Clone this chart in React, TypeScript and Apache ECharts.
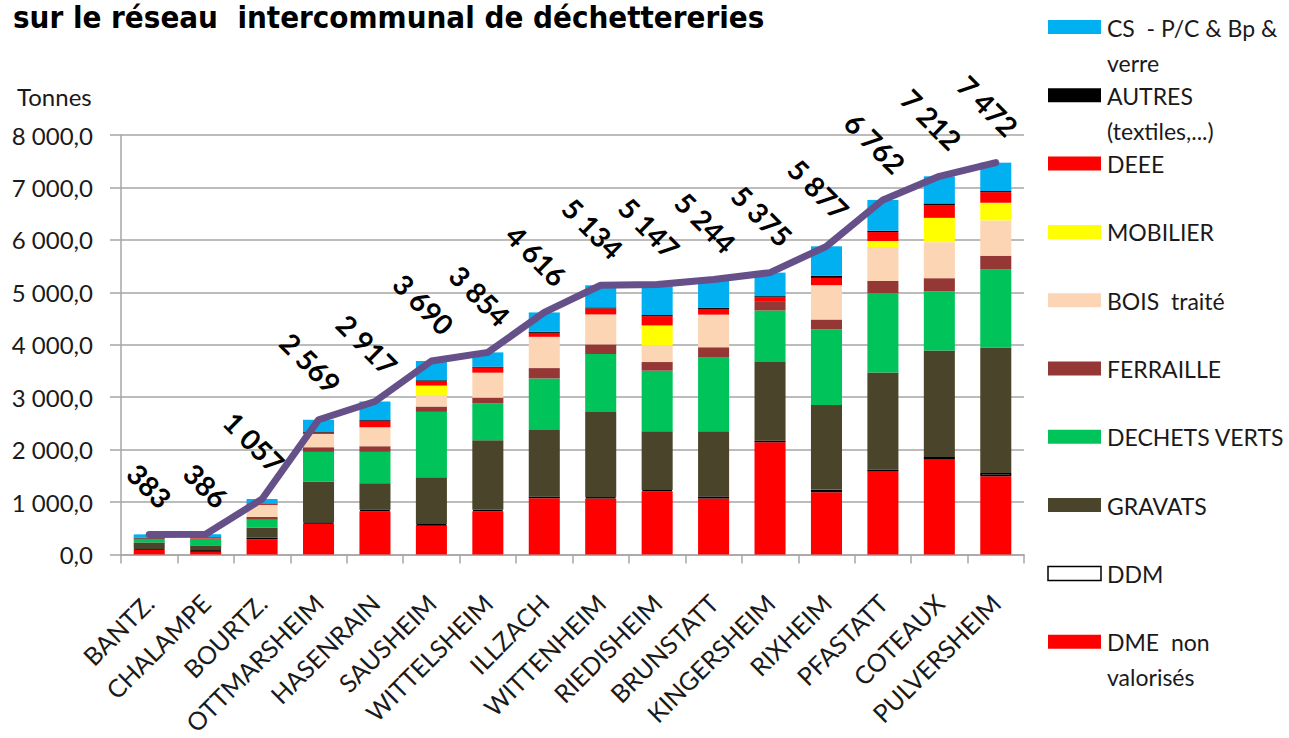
import React, { useEffect, useRef } from 'react';
import * as echarts from 'echarts';

const categories = ['BANTZ.', 'CHALAMPE', 'BOURTZ.', 'OTTMARSHEIM', 'HASENRAIN', 'SAUSHEIM', 'WITTELSHEIM', 'ILLZACH', 'WITTENHEIM', 'RIEDISHEIM', 'BRUNSTATT', 'KINGERSHEIM', 'RIXHEIM', 'PFASTATT', 'COTEAUX', 'PULVERSHEIM'];

const dmeNonValorises = [95, 65, 290, 590, 826, 559, 826, 1073, 1067, 1206, 1067, 2140, 1187, 1581, 1810, 1492];
const ddm = [15, 12, 35, 20, 25, 20, 25, 30, 25, 25, 40, 30, 50, 40, 50, 60];
const gravats = [120, 85, 190, 781, 508, 895, 1327, 1270, 1626, 1118, 1245, 1499, 1613, 1848, 2032, 2394];
const dechetsVerts = [65, 135, 145, 565, 597, 1245, 705, 984, 1105, 1156, 1403, 984, 1441, 1518, 1124, 1492];
const ferraille = [5, 10, 55, 89, 108, 102, 108, 197, 184, 165, 197, 165, 190, 229, 254, 260];
const boisTraite = [0, 0, 230, 254, 362, 222, 476, 597, 571, 311, 622, 0, 654, 648, 686, 673];
const mobilier = [0, 0, 0, 0, 0, 178, 0, 0, 0, 387, 0, 0, 0, 114, 464, 337];
const deee = [5, 8, 15, 25, 121, 76, 95, 76, 114, 178, 108, 83, 140, 171, 235, 203];
const autres = [12, 12, 10, 12, 15, 25, 20, 20, 20, 20, 25, 25, 40, 25, 40, 20];
const csPcBpVerre = [66, 59, 87, 233, 355, 368, 272, 369, 422, 581, 537, 449, 562, 588, 517, 541];
const totals = [383, 386, 1057, 2569, 2917, 3690, 3854, 4616, 5134, 5147, 5244, 5375, 5877, 6762, 7212, 7472];

const seriesNames = ['DME  non\nvalorisés', 'DDM', 'GRAVATS', 'DECHETS VERTS', 'FERRAILLE', 'BOIS  traité', 'MOBILIER', 'DEEE', 'AUTRES\n(textiles,...)', 'CS  - P/C & Bp &\nverre'];
const seriesData = [dmeNonValorises, ddm, gravats, dechetsVerts, ferraille, boisTraite, mobilier, deee, autres, csPcBpVerre];
const seriesColors = ['#FF0000', '#FFFFFF', '#4A452A', '#00C459', '#953735', '#FCD5B5', '#FFFF00', '#FF0000', '#000000', '#00B0F0'];

const titleText = 'sur le réseau  intercommunal de déchettereries';
const yAxisName = 'Tonnes';

const FONT = 'Lato, "Open Sans", sans-serif';
const TITLE_FONT = '"DejaVu Sans Condensed", "DejaVu Sans", sans-serif';

function fmtThousands(n: number): string {
  return String(Math.round(n)).replace(/\B(?=(\d{3})+(?!\d))/g, ' ');
}

export default function App() {
  const ref = useRef<HTMLDivElement>(null);
  useEffect(() => {
    if (!ref.current) return;
    const chart = echarts.init(ref.current, undefined, { renderer: 'svg' });

    const barSeries = seriesData.map((d, i) => ({
      name: seriesNames[i],
      type: 'bar',
      stack: 'total',
      barWidth: '55%',
      data: d,
      itemStyle: {
        color: seriesColors[i],
        borderColor: i === 1 ? '#000000' : undefined,
        borderWidth: i === 1 ? 1.5 : 0,
      },
      emphasis: { disabled: true },
    }));

    const legendOrder = seriesNames.map((n, i) => i).reverse();
    const legendGraphics: any[] = [];
    legendOrder.forEach((si, k) => {
      const cy = 27 + 68.3 * k;
      legendGraphics.push({
        type: 'rect',
        shape: { x: 1048, y: cy - 7, width: 53, height: 14 },
        style: { fill: seriesColors[si], stroke: si === 1 ? '#000' : seriesColors[si], lineWidth: si === 1 ? 1.5 : 0 },
      });
      legendGraphics.push({
        type: 'text',
        x: 1107,
        y: cy - 17,
        style: { text: seriesNames[si], font: `23px ${FONT}`, fill: '#1a1a1a', lineHeight: 35 },
      });
    });

    chart.setOption({
      animation: false,
      grid: { left: 121, right: 265, top: 135, bottom: 183, containLabel: false },
      xAxis: {
        type: 'category',
        data: categories,
        axisLine: { lineStyle: { color: '#A6A6A6', width: 1.5 } },
        axisTick: { show: true, length: 9, lineStyle: { color: '#A6A6A6', width: 1.5 } },
        axisLabel: { rotate: 45, margin: 44, fontFamily: FONT, fontSize: 25, color: '#1a1a1a', interval: 0 },
      },
      yAxis: {
        type: 'value',
        min: 0,
        max: 8000,
        interval: 1000,
        axisLine: { show: true, lineStyle: { color: '#A6A6A6', width: 1.5 } },
        axisTick: { show: true, length: 11, lineStyle: { color: '#A6A6A6', width: 1.5 } },
        splitLine: { lineStyle: { color: '#A6A6A6', width: 1.5 } },
        axisLabel: { margin: 28, fontFamily: FONT, fontSize: 24, color: '#1a1a1a', formatter: (v: number) => fmtThousands(v) + ',0' },
      },
      series: [
        ...barSeries,
        {
          name: 'Total',
          type: 'line',
          data: totals,
          symbol: 'circle',
          symbolSize: 1,
          showSymbol: true,
          lineStyle: { color: '#65508A', width: 7, cap: 'round', join: 'round' },
          itemStyle: { color: '#65508A' },
          label: {
            show: true,
            position: [18, -31],
            rotate: -45,
            align: 'right',
            verticalAlign: 'middle',
            fontFamily: FONT,
            fontWeight: 'bold',
            fontSize: 28,
            color: '#000',
            formatter: (p: any) => fmtThousands(p.value),
          },
          emphasis: { disabled: true },
          z: 5,
        },
      ],
      graphic: [
        { type: 'text', x: 13, y: 1, style: { text: titleText, font: `bold 31px ${TITLE_FONT}`, fill: '#000' } },
        { type: 'text', x: 17, y: 84, style: { text: yAxisName, font: `24px ${FONT}`, fill: '#1a1a1a' } },
        ...legendGraphics,
      ],
    });
    return () => chart.dispose();
  }, []);
  return <div ref={ref} style={{ position: 'fixed', left: 0, top: 0, width: 1289, height: 738, background: '#fff' }} />;
}
